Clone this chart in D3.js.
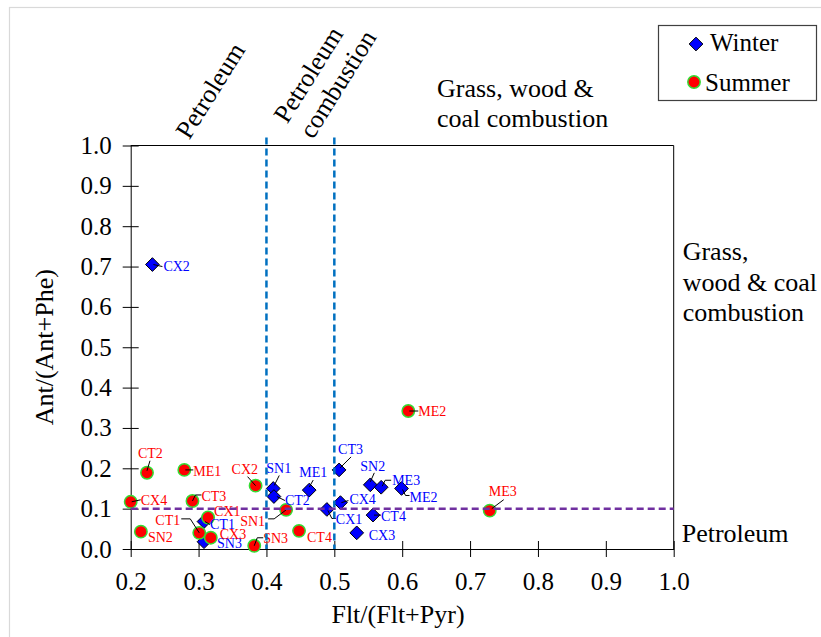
<!DOCTYPE html>
<html>
<head>
<meta charset="utf-8">
<script src="https://cdn.jsdelivr.net/npm/d3@7"></script>
<style>
  body { margin: 0; background: #fff; }
  svg { display: block; }
  text { font-family: "Liberation Serif", "Times New Roman", serif; }
</style>
</head>
<body>
<svg id="chart" width="821" height="637"></svg>
<script>
// PAH diagnostic ratios by sampling site
const winterIds = ["CX2", "SN1", "CT2", "ME1", "CT3", "SN2", "ME3", "ME2", "CX4", "CX1", "CT4", "CX3", "CT1", "SN3"];
const winterFlt = [0.232, 0.410, 0.411, 0.463, 0.507, 0.553, 0.569, 0.599, 0.509, 0.489, 0.557, 0.533, 0.308, 0.308];
const winterAnt = [0.705, 0.150, 0.130, 0.146, 0.196, 0.159, 0.153, 0.150, 0.115, 0.098, 0.084, 0.040, 0.068, 0.018];

const summerIds = ["CT2", "ME1", "CX2", "CX4", "CT3", "CX1", "SN1", "SN2", "CT1", "CX3", "SN3", "CT4", "ME3", "ME2"];
const summerFlt = [0.224, 0.279, 0.384, 0.200, 0.291, 0.314, 0.429, 0.215, 0.301, 0.318, 0.382, 0.448, 0.729, 0.609];
const summerAnt = [0.189, 0.196, 0.157, 0.117, 0.119, 0.078, 0.097, 0.043, 0.040, 0.028, 0.008, 0.045, 0.095, 0.342];

const xTicks = [0.2, 0.3, 0.4, 0.5, 0.6, 0.7, 0.8, 0.9, 1.0];
const yTicks = [0.0, 0.1, 0.2, 0.3, 0.4, 0.5, 0.6, 0.7, 0.8, 0.9, 1.0];
const fltThresholds = [0.4, 0.5];
const antThreshold = 0.1;

// Label placement relative to each marker: text offset, anchor and leader path
const labelLayout = {
  "W-CX2": { dx: 11, dy: 2,   leader: [[1, 0], [10, 2]] },
  "W-SN1": { dx: -7, dy: -20, leader: [[6, -13], [1, -3]] },
  "W-CT2": { dx: 11, dy: 4,   leader: [[3, 0], [11, 4]] },
  "W-ME1": { dx: -10, dy: -18, leader: [[4, -10], [0, -3]] },
  "W-CT3": { dx: -1, dy: -21, leader: [[12, -13], [1, -2]] },
  "W-SN2": { dx: -10, dy: -19, leader: [[4, -12], [0, -3]] },
  "W-ME3": { dx: 11, dy: -7,  leader: [[1, -1], [4, -7], [10, -7]] },
  "W-ME2": { dx: 8,  dy: 9,   leader: [[1, 1], [4, 7], [8, 7]] },
  "W-CX4": { dx: 9,  dy: -3,  leader: [[1, 0], [8, -2]] },
  "W-CX1": { dx: 9,  dy: 10,  leader: [[1, 1], [5, 9], [9, 9]] },
  "W-CT4": { dx: 8,  dy: 1,   leader: [[1, 0], [8, 0]] },
  "W-CX3": { dx: 12, dy: 2,   leader: null },
  "W-CT1": { dx: 6,  dy: 3,   leader: [[1, 0], [6, 3]] },
  "W-SN3": { dx: 13, dy: 1,   leader: null },
  "S-CT2": { dx: -9, dy: -20, leader: [[3, -12], [0, -2]] },
  "S-ME1": { dx: 9,  dy: 1,   leader: [[1, 0], [9, 0]] },
  "S-CX2": { dx: -24, dy: -17, leader: [[-8, -9], [0, 0]] },
  "S-CX4": { dx: 10, dy: -2,  leader: [[1, 0], [10, -2]] },
  "S-CT3": { dx: 9,  dy: -5,  leader: [[0, 0], [3, -6], [9, -6]] },
  "S-CX1": { dx: 6,  dy: -6,  leader: null },
  "S-SN1": { dx: -21, dy: 11, anchor: "end", leader: [[0, 0], [-12, 9], [-18, 9]] },
  "S-SN2": { dx: 7,  dy: 5,   leader: null },
  "S-CT1": { dx: -19, dy: -13, anchor: "end", leader: [[-18, -14], [-9, -14], [0, 0]] },
  "S-CX3": { dx: 9,  dy: -4,  leader: null },
  "S-SN3": { dx: 9,  dy: -8,  leader: [[0, 0], [3, -8], [9, -8]] },
  "S-CT4": { dx: 8,  dy: 6,   leader: null },
  "S-ME3": { dx: -1, dy: -20, leader: [[14, -11], [2, -2]] },
  "S-ME2": { dx: 10, dy: 0,   leader: [[1, 0], [10, 0]] }
};

const winter = winterIds.map((id, i) => ({ id, key: "W-" + id, x: winterFlt[i], y: winterAnt[i] }));
const summer = summerIds.map((id, i) => ({ id, key: "S-" + id, x: summerFlt[i], y: summerAnt[i] }));

const svg = d3.select("#chart");

// outer chart-area border
svg.append("rect").attr("x", 9.5).attr("y", 7.5).attr("width", 840).attr("height", 660)
  .attr("fill", "none").attr("stroke", "#d9d9d9").attr("stroke-width", 1.2);

const x = d3.scaleLinear().domain([0.2, 1.0]).range([130.7, 673.7]);
const y = d3.scaleLinear().domain([0, 1.0]).range([549, 145.5]);

// plot frame (top and right edges)
svg.append("line").attr("x1", x(0.2)).attr("x2", x(1.0)).attr("y1", y(1)).attr("y2", y(1))
  .attr("stroke", "#000").attr("stroke-width", 1);
svg.append("line").attr("x1", x(1.0)).attr("x2", x(1.0)).attr("y1", y(1)).attr("y2", y(0))
  .attr("stroke", "#000").attr("stroke-width", 1);

// axes with ticks crossing the axis line
const xAxis = svg.append("g").attr("transform", `translate(0,${y(0)})`)
  .call(d3.axisBottom(x).tickValues(xTicks).tickFormat(d3.format(".1f")).tickSize(8).tickSizeOuter(0));
xAxis.selectAll(".tick line").attr("y1", -8).attr("stroke", "#000");
xAxis.selectAll(".tick text").attr("y", 23.5).attr("font-size", 25).attr("fill", "#000")
  .style("font-family", '"Liberation Serif", serif');
xAxis.select(".domain").attr("stroke", "#000");

const yAxis = svg.append("g").attr("transform", `translate(${x(0.2)},0)`)
  .call(d3.axisLeft(y).tickValues(yTicks).tickFormat(d3.format(".1f")).tickSize(8).tickSizeOuter(0));
yAxis.selectAll(".tick line").attr("x1", 8).attr("stroke", "#000");
yAxis.selectAll(".tick text").attr("x", -19).attr("font-size", 25).attr("fill", "#000")
  .style("font-family", '"Liberation Serif", serif');
yAxis.select(".domain").attr("stroke", "#000");

// axis titles
svg.append("text").attr("x", 398).attr("y", 623).attr("text-anchor", "middle")
  .attr("font-size", 26).text("Flt/(Flt+Pyr)");
svg.append("text").attr("transform", `translate(53,${(y(0) + y(1)) / 2}) rotate(-90)`)
  .attr("text-anchor", "middle").attr("font-size", 26).text("Ant/(Ant+Phe)");

// source region annotations
svg.append("text").attr("transform", "translate(211,91) rotate(-58)")
  .attr("text-anchor", "middle").attr("dy", "0.3em").attr("font-size", 26).text("Petroleum");
const pc = svg.append("g").attr("transform", "translate(309,75) rotate(-58)")
  .attr("font-size", 26);
pc.append("text").attr("text-anchor", "middle").attr("dy", "0.3em").text("Petroleum");
pc.append("text").attr("text-anchor", "middle").attr("x", 7.5).attr("y", 30).attr("dy", "0.3em").text("combustion");

const topLab = svg.append("text").attr("font-size", 26);
topLab.append("tspan").attr("x", 437).attr("y", 97).text("Grass, wood &");
topLab.append("tspan").attr("x", 437).attr("y", 127).text("coal combustion");

const rightLab = svg.append("text").attr("font-size", 26);
[["Grass,", 260], ["wood & coal", 290.5], ["combustion", 321]].forEach(([t, yy]) =>
  rightLab.append("tspan").attr("x", x(1.0) + 9).attr("y", yy).text(t));
svg.append("text").attr("x", x(1.0) + 8).attr("y", 542).attr("font-size", 26).text("Petroleum");

// markers
const diamond = d3.symbol().type(d3.symbolDiamond2).size(120);

svg.append("g").selectAll("path").data(winter).join("path")
  .attr("d", diamond)
  .attr("transform", d => `translate(${x(d.x)},${y(d.y)})`)
  .attr("fill", "#0000ff").attr("stroke", "#000").attr("stroke-width", 1);

svg.append("g").selectAll("circle").data(summer).join("circle")
  .attr("cx", d => x(d.x)).attr("cy", d => y(d.y)).attr("r", 6.2)
  .attr("fill", "#ff0000").attr("stroke", "#33dd33").attr("stroke-width", 1.5);

// leader lines and data labels
function drawLabels(data, color) {
  const g = svg.append("g");
  data.forEach(d => {
    const L = labelLayout[d.key];
    const px = x(d.x), py = y(d.y);
    if (L.leader) {
      g.append("path")
        .attr("d", d3.line()(L.leader.map(p => [px + p[0], py + p[1]])))
        .attr("fill", "none").attr("stroke", "#000").attr("stroke-width", 1);
    }
    g.append("text").attr("x", px + L.dx).attr("y", py + L.dy).attr("dy", "0.35em")
      .attr("text-anchor", L.anchor || "start")
      .attr("font-size", 14).attr("fill", color).text(d.id);
  });
}
drawLabels(winter, "#0000ff");
drawLabels(summer, "#ff0000");

// threshold lines
fltThresholds.forEach(v => {
  svg.append("line").attr("x1", x(v)).attr("x2", x(v)).attr("y1", y(1) - 8).attr("y2", y(0))
    .attr("stroke", "#0070c0").attr("stroke-width", 2.5).attr("stroke-dasharray", "7,4");
});
svg.append("line").attr("x1", x(0.2)).attr("x2", x(1.0)).attr("y1", y(antThreshold)).attr("y2", y(antThreshold))
  .attr("stroke", "#7030a0").attr("stroke-width", 2.5).attr("stroke-dasharray", "7,4");

// legend
const lg = svg.append("g");
lg.append("rect").attr("x", 658.5).attr("y", 25.5).attr("width", 158).attr("height", 75)
  .attr("fill", "#fff").attr("stroke", "#404040").attr("stroke-width", 1.2);
lg.append("path").attr("d", diamond).attr("transform", "translate(696,44)")
  .attr("fill", "#0000ff").attr("stroke", "#000").attr("stroke-width", 1);
lg.append("text").attr("x", 710).attr("y", 51).attr("font-size", 25).text("Winter");
lg.append("circle").attr("cx", 694).attr("cy", 82).attr("r", 6.2)
  .attr("fill", "#ff0000").attr("stroke", "#33dd33").attr("stroke-width", 1.5);
lg.append("text").attr("x", 705).attr("y", 91).attr("font-size", 25).text("Summer");
</script>
</body>
</html>
